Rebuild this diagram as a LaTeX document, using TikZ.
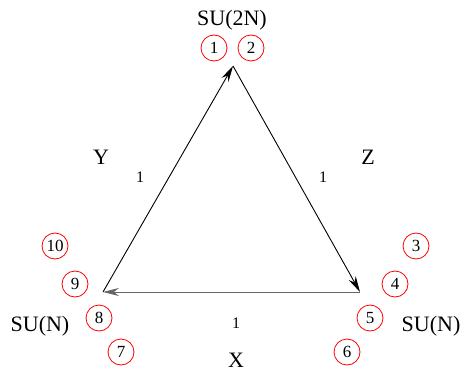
\documentclass[tikz,border=0pt]{standalone}
\usepackage{fontspec}
\setmainfont{Liberation Serif}
\usetikzlibrary{arrows.meta}
\tikzset{
  site/.style={draw=red, circle, line width=0.8pt, minimum size=26pt, inner sep=0pt, font=\fontsize{17}{17}\selectfont},
  grp/.style={font=\fontsize{22}{22}\selectfont},
  wt/.style={font=\fontsize{16}{16}\selectfont}
}
\begin{document}
\begin{tikzpicture}[x=1pt, y=-1pt, line width=0.9pt, line join=round, >={Stealth[length=16pt,width=8pt]}]
	\useasboundingbox (0,0) rectangle (462,371);
	% corners of the triangle
	\coordinate (top) at (233,66);
	\coordinate (left) at (103,292);
	\coordinate (right) at (360,292);
	\draw[->] (left) -- (top);
	\draw[->] (top) -- (right);
	\draw[->, draw=black!60] (right) -- (left);
	% gauge groups
	\node[grp] (g1) at (232,20) {SU(2N)};
	\node[grp] (g2) at (431,326) {SU(N)};
	\node[grp] (g3) at (40,326) {SU(N)};
	% sites
	\node[site] (s1) at (214,48) {1};
	\node[site] (s2) at (251,48) {2};
	\node[site] (s3) at (416,246) {3};
	\node[site] (s4) at (395,284) {4};
	\node[site] (s5) at (370,318) {5};
	\node[site] (s6) at (347,352) {6};
	\node[site] (s7) at (121,352) {7};
	\node[site] (s8) at (99,318) {8};
	\node[site] (s9) at (75,284) {9};
	\node[site] (s10) at (55,246) {10};
	% edge labels
	\node[grp] (ly) at (101,157) {Y};
	\node[grp] (lz) at (368,157) {Z};
	\node[grp] (lx) at (236,360) {X};
	\node[wt] (wy) at (140,177) {1};
	\node[wt] (wz) at (323,177) {1};
	\node[wt] (wx) at (236,323) {1};
\end{tikzpicture}
\end{document}
